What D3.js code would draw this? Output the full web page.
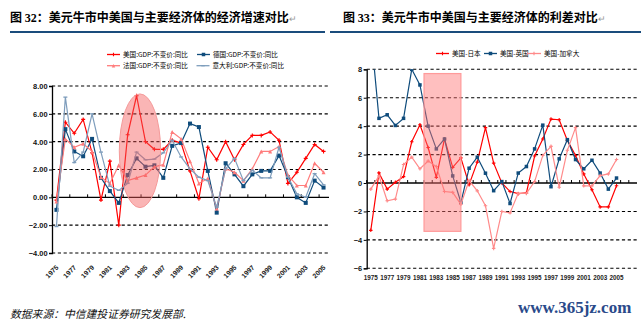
<!DOCTYPE html>
<html><head><meta charset="utf-8">
<script src="https://cdn.jsdelivr.net/npm/d3@7"></script>
<style>body{margin:0;background:#fff}svg{display:block}</style>
</head><body><svg id="c" width="641" height="324"></svg>
<script>
// ---------- data ----------
const years = [1975,1976,1977,1978,1979,1980,1981,1982,1983,1984,1985,1986,1987,1988,1989,1990,1991,1992,1993,1994,1995,1996,1997,1998,1999,2000,2001,2002,2003,2004,2005];
const rightYears = [1975,1976,1977,1978,1979,1980,1981,1982,1983,1984,1985,1986,1987,1988,1989,1990,1991,1992,1993,1994,1995,1996,1997,1998,1999,2000,2001,2002,2003,2004,2005,2006,2007];

const usGDP  = [-0.2,5.4,4.6,5.6,3.2,-0.2,2.6,-2.0,4.5,7.3,4.0,3.45,3.45,4.1,3.9,1.9,-0.1,3.6,2.7,4.0,2.7,3.8,4.45,4.45,4.7,4.1,1.0,1.8,2.8,3.8,3.3];
const gerGDP = [-0.9,4.9,3.3,2.95,4.2,1.4,0.45,-0.4,1.6,2.8,2.2,2.3,1.4,3.7,3.9,5.3,5.05,1.9,-1.1,2.45,1.65,0.8,1.65,1.9,1.9,3.0,1.45,0.0,-0.4,1.2,0.7];
const fraGDP = [-0.3,4.2,3.6,3.85,3.3,1.45,1.0,2.3,1.2,1.4,1.6,2.2,2.35,4.7,4.2,2.6,1.0,1.35,-0.8,2.05,1.8,1.2,2.05,3.3,3.3,3.65,1.6,0.85,0.85,2.45,1.8];
const itaGDP = [-2.1,7.2,2.5,3.25,6.0,3.25,0.8,0.5,1.0,3.25,2.7,2.75,3.2,4.1,2.9,2.05,1.45,1.2,-0.7,2.05,2.8,1.2,1.95,1.4,1.4,3.6,1.45,0.25,0.0,1.7,0.9];

const usJp = [-3.33,0.71,-0.43,0.05,0.45,2.9,4.1,2.5,0.4,3.1,1.1,1.77,-0.12,1.47,3.9,1.4,0.0,-0.6,-0.75,-0.7,1.9,3.1,4.5,4.45,3.0,1.94,0.64,-0.47,-1.68,-1.68,-0.19];
const usUk = [10.7,4.55,4.8,4.05,4.55,8.0,6.9,4.0,2.4,3.1,0.5,-1.37,1.04,1.82,0.69,-0.54,0.1,-1.44,0.7,1.16,2.4,4.07,-0.26,1.7,3.05,1.65,1.0,1.6,0.7,-0.43,0.35];
const usCa = [-0.43,0.5,-1.25,-1.13,1.3,1.82,1.0,1.54,1.16,-0.6,-0.66,-1.5,0.17,-0.55,-1.6,-4.6,-2.0,-2.1,-0.73,-0.73,0.1,1.94,2.58,-0.3,2.3,3.9,-0.2,-0.2,0.52,0.64,1.65];

const leftYTicks = [8,6,4,2,0,-2,-4];
const rightYTicks = [8,6,4,2,0,-2,-4,-6];
const leftXLabels = [1975,1977,1979,1981,1983,1985,1987,1989,1991,1993,1995,1997,1999,2001,2003,2005];
const rightXLabels = [1975,1977,1979,1981,1983,1985,1987,1989,1991,1993,1995,1997,1999,2001,2003,2005];

const leftSeries = [
  {name:"美国:GDP:不变价:同比", values:usGDP, color:"#FF0000", marker:"plus"},
  {name:"德国:GDP:不变价:同比", values:gerGDP, color:"#0F4C7C", marker:"square"},
  {name:"法国:GDP:不变价:同比", values:fraGDP, color:"#FF7C7C", marker:"tri"},
  {name:"意大利:GDP:不变价:同比", values:itaGDP, color:"#7E9DBC", marker:"dash"}
];
const rightSeries = [
  {name:"美国-日本", values:usJp, color:"#FF0000", marker:"plus"},
  {name:"美国-英国", values:usUk, color:"#0F4C7C", marker:"square"},
  {name:"美国-加拿大", values:usCa, color:"#FF8A8A", marker:"plus"}
];
// highlight shapes (in data units)
const ellipseYears = [1982.56, 1987.2];
const ellipseVals = [-0.74, 7.43];
const rectYears = [1982.0, 1986.5];
const rectVals = [-3.4, 7.7];

// ---------- drawing ----------
const svg = d3.select("#c");
svg.append("rect").attr("width",641).attr("height",324).attr("fill","#fff");
const CJK = "'Noto Sans CJK SC','Noto Sans',sans-serif";
const SANS = "'Liberation Sans',Arial,sans-serif";

function title(x, num, rest, ruleX0, ruleX1){
  const t = svg.append("text").attr("x",x).attr("y",21.5).attr("font-size",12).attr("font-weight","bold").attr("fill","#000");
  t.append("tspan").attr("font-family",CJK).text("图 ");
  t.append("tspan").attr("font-family","'Liberation Serif',serif").text(num);
  t.append("tspan").attr("font-family",CJK).text("：" + rest);
  t.append("tspan").attr("font-family",SANS).attr("font-weight","normal").attr("font-size",9).attr("fill","#999").text("↵");
  svg.append("line").attr("x1",ruleX0).attr("x2",ruleX1).attr("y1",32).attr("y2",32).attr("stroke","#1A4C7C").attr("stroke-width",2.2);
}
title(10, "32", "美元牛市中美国与主要经济体的经济增速对比", 10, 325);
title(343, "33", "美元牛市中美国与主要经济体的利差对比", 330, 641);

function drawMarker(g, type, x, y, color, s){
  if(type==="square"){
    g.append("rect").attr("x",x-s/2).attr("y",y-s/2).attr("width",s).attr("height",s).attr("fill",color);
  } else if(type==="tri"){
    g.append("path").attr("d",`M${x},${y-s/2}L${x+s/2},${y+s/2}L${x-s/2},${y+s/2}Z`).attr("fill",color);
  } else if(type==="plus"){
    g.append("path").attr("d",`M${x-s/2},${y}H${x+s/2}M${x},${y-s/2}V${y+s/2}`).attr("stroke",color).attr("stroke-width",1.1);
  } else if(type==="dash"){
    g.append("path").attr("d",`M${x-s/2},${y}H${x+s/2}`).attr("stroke",color).attr("stroke-width",1.3);
  }
}

function drawChart(opt){
  const x = d3.scaleBand().domain(opt.cats).range([opt.x0, opt.x1]).paddingInner(0).paddingOuter(0);
  const bw = x.bandwidth();
  const y = d3.scaleLinear().domain(opt.yDom).range([opt.yBot, opt.yTop]);
  const cx = d => x(d) + bw/2;
  const xf = yr => x(opt.cats[0]) + (yr - opt.cats[0]) * bw;
  const g = svg.append("g");
  const clipId = "clip"+opt.id;
  svg.append("defs").append("clipPath").attr("id",clipId).append("rect")
    .attr("x",opt.x0).attr("y",opt.yTop).attr("width",opt.x1-opt.x0).attr("height",opt.yBot-opt.yTop);

  // gridlines
  opt.yTicks.forEach(v=>{
    if(v===0) return;
    g.append("line").attr("x1",opt.x0).attr("x2",opt.gridEnd).attr("y1",y(v)).attr("y2",y(v))
      .attr("stroke","#000").attr("stroke-width",1.1).attr("stroke-dasharray","3.2,2.6");
  });
  // y axis
  const ya = d3.axisLeft(y).tickValues(opt.yTicks).tickSize(3).tickFormat(opt.fmt);
  const yg = g.append("g").attr("transform",`translate(${opt.x0},0)`).call(ya);
  yg.select(".domain").attr("stroke","#000").attr("stroke-width",1.3);
  yg.selectAll(".tick line").attr("stroke","#000");
  yg.selectAll(".tick text").attr("font-family",SANS).attr("font-size",opt.yFont).attr("font-weight","bold").attr("fill","#111").attr("x",-4.5);
  // zero axis
  const xa = d3.axisBottom(x).tickValues(opt.cats.filter((d,i)=>i%opt.tickEvery===0)).tickSize(-3).tickFormat("");
  const xg = g.append("g").attr("transform",`translate(${-bw/2},${y(0)})`).call(xa);
  xg.select(".domain").remove();
  xg.selectAll(".tick line").attr("stroke","#000");
  g.append("line").attr("x1",opt.x0).attr("x2",opt.gridEnd).attr("y1",y(0)).attr("y2",y(0)).attr("stroke","#000").attr("stroke-width",1.3);

  // series
  const lg = svg.append("g").attr("clip-path",`url(#${clipId})`);
  opt.series.forEach(s=>{
    const pts = s.values.map((v,i)=>[cx(opt.cats[i]), y(v)]);
    lg.append("path").attr("d",d3.line()(pts)).attr("fill","none").attr("stroke",s.color).attr("stroke-width",1.2);
    pts.forEach(p=>drawMarker(lg, s.marker, p[0], p[1], s.color, opt.markerSize));
  });

  // x labels
  const labG = svg.append("g");
  opt.xLabels.forEach(yr=>{
    if(opt.rotate){
      labG.append("text").attr("transform",`translate(${cx(yr)+2.5},${opt.labelY}) rotate(-45)`)
        .attr("text-anchor","end").attr("font-family",SANS).attr("font-size",opt.xFont).attr("font-weight","bold").attr("fill","#222").text(yr);
    } else {
      labG.append("text").attr("x",cx(yr)).attr("y",opt.labelY).attr("text-anchor","middle")
        .attr("font-family",SANS).attr("font-size",opt.xFont).attr("font-weight","bold").attr("fill","#222").text(yr);
    }
  });
  return {x, y, xf, bw};
}

const L = drawChart({id:"L", cats:years, x0:52, x1:328, gridEnd:329, yDom:[-4,8], yTop:86, yBot:253,
  yTicks:leftYTicks, fmt:d3.format(".2f"), yFont:7.4, series:leftSeries, markerSize:4,
  xLabels:leftXLabels, rotate:true, labelY:268, xFont:6.8, tickEvery:2});
const R = drawChart({id:"R", cats:rightYears, x0:366.7, x1:637, gridEnd:637, yDom:[-6,8], yTop:69.3, yBot:268.3,
  yTicks:rightYTicks, fmt:d3.format("d"), yFont:7.4, series:rightSeries, markerSize:3.5,
  xLabels:rightXLabels, rotate:false, labelY:280, xFont:6.3, tickEvery:1});

// highlights
{
  const xa = L.xf(ellipseYears[0]), xb = L.xf(ellipseYears[1]);
  const ya = L.y(ellipseVals[1]), yb = L.y(ellipseVals[0]);
  svg.append("ellipse").attr("cx",(xa+xb)/2).attr("cy",(ya+yb)/2).attr("rx",(xb-xa)/2).attr("ry",(yb-ya)/2)
    .attr("fill","#F45C5C").attr("fill-opacity",0.45).attr("stroke","#F59A9A").attr("stroke-width",1);
}
{
  const xa = R.xf(rectYears[0]), xb = R.xf(rectYears[1]);
  const ya = R.y(rectVals[1]), yb = R.y(rectVals[0]);
  svg.append("rect").attr("x",xa).attr("y",ya).attr("width",xb-xa).attr("height",yb-ya)
    .attr("fill","#FF7070").attr("fill-opacity",0.45).attr("stroke","#FF9A9A").attr("stroke-width",1.2);
}

// legends
function legendItem(x, y, s, lineLen, font){
  const g = svg.append("g");
  g.append("line").attr("x1",x).attr("x2",x+lineLen).attr("y1",y).attr("y2",y).attr("stroke",s.color).attr("stroke-width",1.3);
  drawMarker(g, s.marker, x+lineLen/2, y, s.color, 3.5);
  g.append("text").attr("x",x+lineLen+3).attr("y",y+2.3).attr("font-family",CJK).attr("font-size",font).attr("fill","#000").text(s.name);
}
legendItem(107, 54.5, leftSeries[0], 13, 6.6);
legendItem(197, 54.5, leftSeries[1], 13, 6.6);
legendItem(107, 65.7, leftSeries[2], 13, 6.6);
legendItem(196.5, 65.7, leftSeries[3], 13, 6.6);
legendItem(436, 53.5, rightSeries[0], 13, 6.6);
legendItem(484, 53.5, rightSeries[1], 13, 6.6);
legendItem(527, 53.5, rightSeries[2], 14, 6.6);

// source & watermark
svg.append("text").attr("x",10).attr("y",318).attr("font-family",CJK).attr("font-size",10.8).attr("font-style","italic")
  .attr("fill","#111").text("数据来源：中信建投证券研究发展部.");
svg.append("text").attr("x",518).attr("y",313).attr("font-family","'Liberation Serif',serif").attr("font-size",17).attr("font-weight","bold")
  .attr("fill","#2A4A8A").text("www.365jz.com");
</script></body></html>
